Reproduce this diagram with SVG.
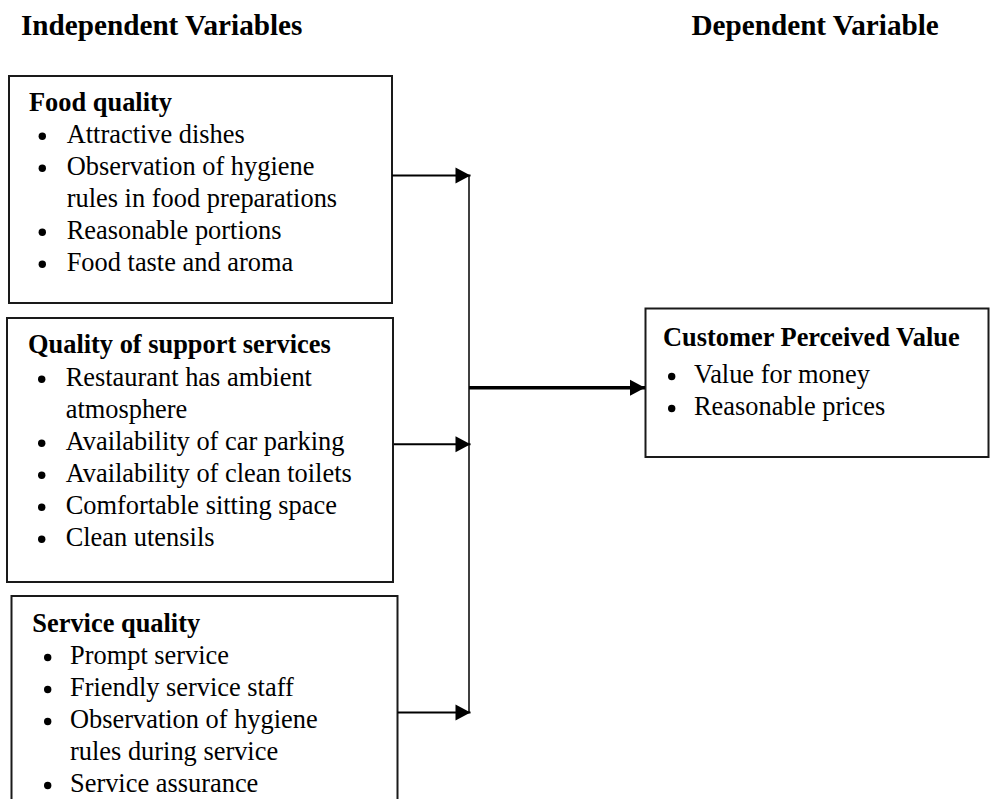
<svg xmlns="http://www.w3.org/2000/svg" width="990" height="799" viewBox="0 0 990 799">
<style>
text{font-family:"Liberation Serif","Times New Roman",serif;fill:#000}
.t{font-size:29.2px;font-weight:bold}
.h{font-size:26.4px;font-weight:bold}
.b{font-size:26.4px}
.box{fill:#fff;stroke:#1a1a1a;stroke-width:2}
.dot{fill:#000}
.ln{fill:none;stroke:#000}
</style>
<defs>
<marker id="ah" markerUnits="userSpaceOnUse" markerWidth="17" markerHeight="18" refX="15" refY="8.5" orient="auto" overflow="visible">
<path d="M0,0.5 L15,8.5 L0,16.5 z" fill="#000"/>
</marker>
</defs>
<rect width="990" height="799" fill="#fff"/>
<text class="t" x="21" y="35">Independent Variables</text>
<text class="t" x="691.5" y="35">Dependent Variable</text>

<g id="food">
<rect class="box" x="9" y="76" width="383" height="227"/>
<text class="h" x="29" y="110.7">Food quality</text>
<circle class="dot" cx="42.3" cy="136.2" r="3.7"/>
<text class="b" x="66.7" y="142.7">Attractive dishes</text>
<circle class="dot" cx="42.3" cy="168.2" r="3.7"/>
<text class="b" x="66.7" y="174.7">Observation of hygiene</text>
<text class="b" x="66.7" y="206.7">rules in food preparations</text>
<circle class="dot" cx="42.3" cy="232.2" r="3.7"/>
<text class="b" x="66.7" y="238.7">Reasonable portions</text>
<circle class="dot" cx="42.3" cy="264.2" r="3.7"/>
<text class="b" x="66.7" y="270.7">Food taste and aroma</text>
</g>

<g id="support">
<rect class="box" x="7" y="318" width="386" height="264"/>
<text class="h" x="28" y="353.3">Quality of support services</text>
<circle class="dot" cx="41.7" cy="379.3" r="3.7"/>
<text class="b" x="65.7" y="385.5">Restaurant has ambient</text>
<text class="b" x="65.7" y="417.5">atmosphere</text>
<circle class="dot" cx="41.7" cy="443.3" r="3.7"/>
<text class="b" x="65.7" y="449.5">Availability of car parking</text>
<circle class="dot" cx="41.7" cy="475.3" r="3.7"/>
<text class="b" x="65.7" y="481.5">Availability of clean toilets</text>
<circle class="dot" cx="41.7" cy="507.3" r="3.7"/>
<text class="b" x="65.7" y="513.5">Comfortable sitting space</text>
<circle class="dot" cx="41.7" cy="539.3" r="3.7"/>
<text class="b" x="65.7" y="545.5">Clean utensils</text>
</g>

<g id="service">
<rect class="box" x="11.5" y="596" width="386" height="220"/>
<text class="h" x="32.3" y="631.7">Service quality</text>
<circle class="dot" cx="47.7" cy="657.5" r="3.7"/>
<text class="b" x="70" y="663.5">Prompt service</text>
<circle class="dot" cx="47.7" cy="689.5" r="3.7"/>
<text class="b" x="70" y="695.5">Friendly service staff</text>
<circle class="dot" cx="47.7" cy="721.5" r="3.7"/>
<text class="b" x="70" y="727.5">Observation of hygiene</text>
<text class="b" x="70" y="759.5">rules during service</text>
<circle class="dot" cx="47.7" cy="785.5" r="3.7"/>
<text class="b" x="70" y="791.5">Service assurance</text>
</g>

<g id="value">
<rect class="box" x="645.5" y="308.5" width="343" height="148.5"/>
<text class="h" x="663" y="346">Customer Perceived Value</text>
<circle class="dot" cx="671.7" cy="376.5" r="3.7"/>
<text class="b" x="694" y="382.5">Value for money</text>
<circle class="dot" cx="671.7" cy="408.5" r="3.7"/>
<text class="b" x="694" y="414.5">Reasonable prices</text>
</g>

<g id="connectors">
<line class="ln" x1="469" y1="175" x2="469" y2="713" stroke-width="1.5"/>
<line class="ln" x1="392" y1="175.5" x2="470.5" y2="175.5" stroke-width="2" marker-end="url(#ah)"/>
<line class="ln" x1="394" y1="444.3" x2="470.5" y2="444.3" stroke-width="2" marker-end="url(#ah)"/>
<line class="ln" x1="397.5" y1="712.5" x2="470.5" y2="712.5" stroke-width="2" marker-end="url(#ah)"/>
<line class="ln" x1="469" y1="387.7" x2="645" y2="387.7" stroke-width="3.5" marker-end="url(#ah)"/>
</g>
</svg>
